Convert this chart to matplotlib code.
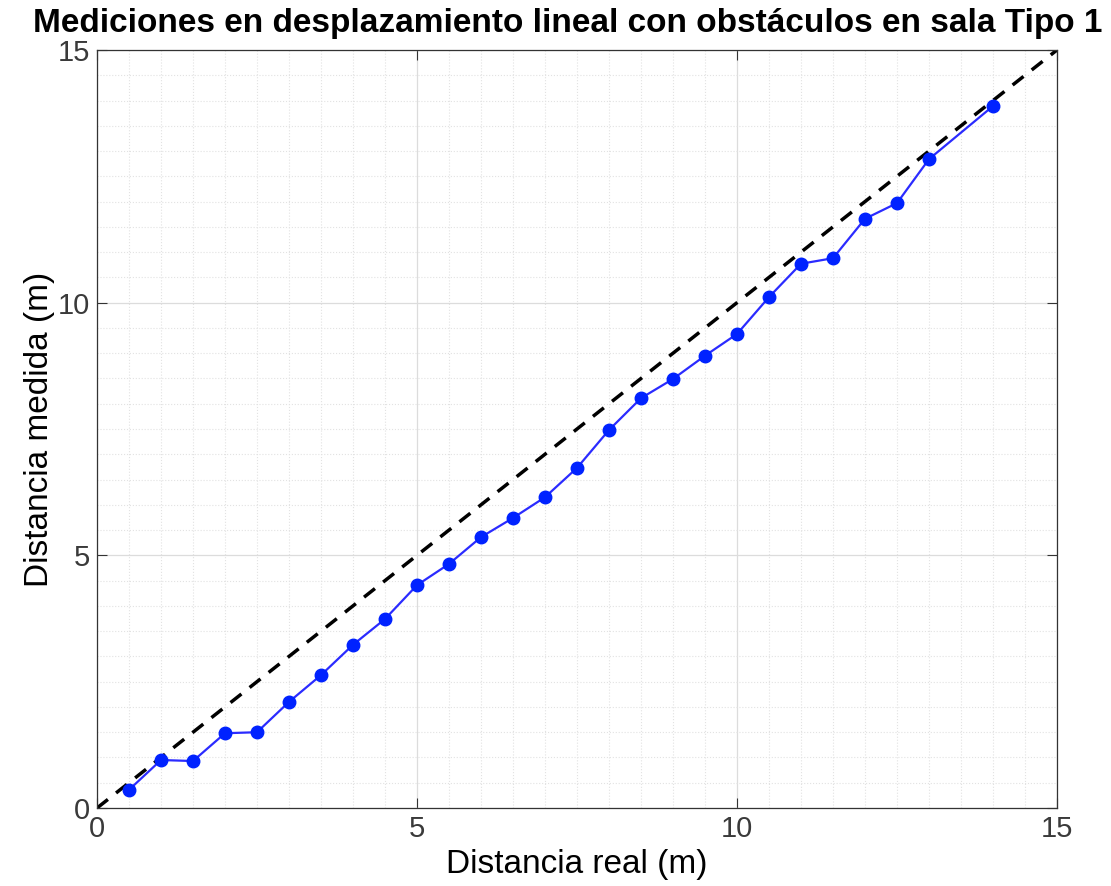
import matplotlib
matplotlib.use('Agg')
import matplotlib.pyplot as plt
import numpy as np

# distancia real vs medida (m)
real = [0.5, 1, 1.5, 2, 2.5, 3, 3.5, 4, 4.5, 5, 5.5, 6, 6.5, 7, 7.5,
        8, 8.5, 9, 9.5, 10, 10.5, 11, 11.5, 12, 12.5, 13, 14]
medida = [0.36, 0.95, 0.93, 1.48, 1.50, 2.10, 2.63, 3.23, 3.74, 4.41, 4.83,
          5.36, 5.74, 6.15, 6.73, 7.48, 8.11, 8.49, 8.95, 9.38, 10.11, 10.77,
          10.88, 11.66, 11.97, 12.84, 13.89]
ideal = [0, 15]
ticks = [0, 5, 10, 15]

plt.rcParams['font.family'] = ['Liberation Sans', 'DejaVu Sans']

fig = plt.figure(figsize=(11.11, 8.86), dpi=100)
ax = fig.add_axes([0.0873, 0.088, 0.8641, 0.8556])

ax.plot(ideal, ideal, '--', color='black', lw=2.5, dashes=(4, 3), zorder=2)
ax.plot(real, medida, '-', color='#2b2bff', lw=1.6, zorder=3)
ax.plot(real, medida, 'o', color='#0022ff', ms=9, zorder=4)

ax.set_xlim(0, 15)
ax.set_ylim(0, 15)
ax.set_xticks(ticks)
ax.set_yticks(ticks)
ax.set_xticks(np.arange(0, 15.01, 0.5), minor=True)
ax.set_yticks(np.arange(0, 15.01, 0.5), minor=True)
ax.grid(which='major', color='#dcdcdc', lw=0.9, ls='-')
ax.grid(which='minor', color='#e2e2e2', lw=0.8, ls=':')
ax.tick_params(which='major', direction='in', length=7, top=True, right=True,
               labelsize=21, colors='#333333', labelcolor='#3a3a3a', pad=5)
ax.tick_params(which='minor', length=0)
for s in ax.spines.values():
    s.set_color('#333333')
    s.set_linewidth(0.9)

ax.set_xlabel('Distancia real (m)', fontsize=24, labelpad=4)
ax.set_ylabel('Distancia medida (m)', fontsize=24, labelpad=2)
ax.set_title('Mediciones en desplazamiento lineal con obstáculos en sala Tipo 1',
             fontsize=24, fontweight='bold', pad=13, x=0.49)

fig.savefig('out.png', dpi=100)
